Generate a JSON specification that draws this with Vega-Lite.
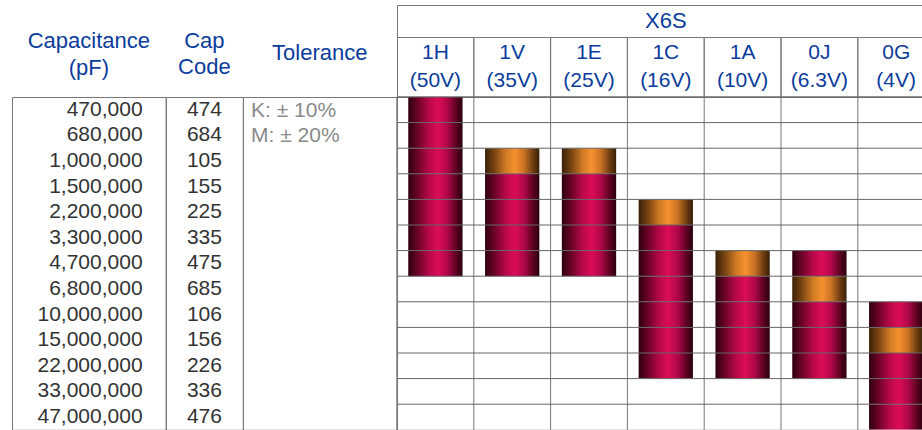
{
  "$schema": "https://vega.github.io/schema/vega-lite/v6.json",
  "padding": {"left": 11, "top": 4, "right": 0, "bottom": 0},
  "autosize": {"type": "pad"},
  "background": "white",
  "config": {
    "view": {"stroke": "#777", "strokeWidth": 1},
    "concat": {"spacing": 0},
    "text": {"font": "Liberation Sans"}
  },
  "datasets": {
    "rows": [
      {"cap": "470,000", "code": "474"},
      {"cap": "680,000", "code": "684"},
      {"cap": "1,000,000", "code": "105"},
      {"cap": "1,500,000", "code": "155"},
      {"cap": "2,200,000", "code": "225"},
      {"cap": "3,300,000", "code": "335"},
      {"cap": "4,700,000", "code": "475"},
      {"cap": "6,800,000", "code": "685"},
      {"cap": "10,000,000", "code": "106"},
      {"cap": "15,000,000", "code": "156"},
      {"cap": "22,000,000", "code": "226"},
      {"cap": "33,000,000", "code": "336"},
      {"cap": "47,000,000", "code": "476"}
    ],
    "tolerance": [
      {"cap": "470,000", "tol": "K: ± 10%"},
      {"cap": "680,000", "tol": "M: ± 20%"}
    ],
    "voltages": [
      {"voltage": "1H", "label": "1H (50V)"},
      {"voltage": "1V", "label": "1V (35V)"},
      {"voltage": "1E", "label": "1E (25V)"},
      {"voltage": "1C", "label": "1C (16V)"},
      {"voltage": "1A", "label": "1A (10V)"},
      {"voltage": "0J", "label": "0J (6.3V)"},
      {"voltage": "0G", "label": "0G (4V)"}
    ],
    "cells": [
      {"voltage": "1H", "cap": "470,000", "status": "standard"},
      {"voltage": "1H", "cap": "680,000", "status": "standard"},
      {"voltage": "1H", "cap": "1,000,000", "status": "standard"},
      {"voltage": "1H", "cap": "1,500,000", "status": "standard"},
      {"voltage": "1H", "cap": "2,200,000", "status": "standard"},
      {"voltage": "1H", "cap": "3,300,000", "status": "standard"},
      {"voltage": "1H", "cap": "4,700,000", "status": "standard"},
      {"voltage": "1V", "cap": "1,000,000", "status": "development"},
      {"voltage": "1V", "cap": "1,500,000", "status": "standard"},
      {"voltage": "1V", "cap": "2,200,000", "status": "standard"},
      {"voltage": "1V", "cap": "3,300,000", "status": "standard"},
      {"voltage": "1V", "cap": "4,700,000", "status": "standard"},
      {"voltage": "1E", "cap": "1,000,000", "status": "development"},
      {"voltage": "1E", "cap": "1,500,000", "status": "standard"},
      {"voltage": "1E", "cap": "2,200,000", "status": "standard"},
      {"voltage": "1E", "cap": "3,300,000", "status": "standard"},
      {"voltage": "1E", "cap": "4,700,000", "status": "standard"},
      {"voltage": "1C", "cap": "2,200,000", "status": "development"},
      {"voltage": "1C", "cap": "3,300,000", "status": "standard"},
      {"voltage": "1C", "cap": "4,700,000", "status": "standard"},
      {"voltage": "1C", "cap": "6,800,000", "status": "standard"},
      {"voltage": "1C", "cap": "10,000,000", "status": "standard"},
      {"voltage": "1C", "cap": "15,000,000", "status": "standard"},
      {"voltage": "1C", "cap": "22,000,000", "status": "standard"},
      {"voltage": "1A", "cap": "4,700,000", "status": "development"},
      {"voltage": "1A", "cap": "6,800,000", "status": "standard"},
      {"voltage": "1A", "cap": "10,000,000", "status": "standard"},
      {"voltage": "1A", "cap": "15,000,000", "status": "standard"},
      {"voltage": "1A", "cap": "22,000,000", "status": "standard"},
      {"voltage": "0J", "cap": "4,700,000", "status": "standard"},
      {"voltage": "0J", "cap": "6,800,000", "status": "development"},
      {"voltage": "0J", "cap": "10,000,000", "status": "standard"},
      {"voltage": "0J", "cap": "15,000,000", "status": "standard"},
      {"voltage": "0J", "cap": "22,000,000", "status": "standard"},
      {"voltage": "0G", "cap": "10,000,000", "status": "standard"},
      {"voltage": "0G", "cap": "15,000,000", "status": "development"},
      {"voltage": "0G", "cap": "22,000,000", "status": "standard"},
      {"voltage": "0G", "cap": "33,000,000", "status": "standard"},
      {"voltage": "0G", "cap": "47,000,000", "status": "standard"}
    ]
  },
  "columns": 4,
  "spacing": 0,
  "bounds": "flush",
  "concat": [
    {
      "width": 153.6,
      "height": 92,
      "data": {"values": [{"header": "Capacitance (pF)"}]},
      "mark": {"type": "text", "fontSize": 22, "color": "#0b3c9c", "lineBreak": " ", "lineHeight": 26.5, "baseline": "middle", "dy": -10},
      "encoding": {"text": {"field": "header"}}
    },
    {
      "width": 76.8,
      "height": 92,
      "data": {"values": [{"header": "Cap Code"}]},
      "mark": {"type": "text", "fontSize": 22, "color": "#0b3c9c", "lineBreak": " ", "lineHeight": 25.5, "baseline": "middle", "dy": -10},
      "encoding": {"text": {"field": "header"}}
    },
    {
      "width": 153.6,
      "height": 92,
      "data": {"values": [{"header": "Tolerance"}]},
      "mark": {"type": "text", "fontSize": 22, "color": "#0b3c9c", "baseline": "middle", "dy": 2},
      "encoding": {"text": {"field": "header"}}
    },
    {
      "width": 526,
      "height": 92,
      "view": {"strokeDash": [526, 92, 618]},
      "resolve": {"scale": {"x": "independent"}},
      "layer": [
        {
          "data": {"values": [{"family": "X6S"}]},
          "mark": {"type": "text", "fontSize": 22, "color": "#0b3c9c", "baseline": "middle", "clip": true},
          "encoding": {
            "x": {"field": "family", "type": "nominal", "bandPosition": 0.5, "axis": null, "scale": {"type": "band", "range": [0, 537.6], "paddingInner": 0, "paddingOuter": 0}},
            "y": {"datum": "family", "type": "nominal", "bandPosition": 0.727, "axis": null, "scale": {"type": "band", "domain": ["family", "voltage"], "range": [-27, 92], "paddingInner": 0, "paddingOuter": 0}},
            "text": {"field": "family"}
          }
        },
        {
          "data": {"name": "voltages"},
          "mark": {"type": "rect", "filled": false, "color": "#777", "strokeWidth": 1, "clip": true},
          "encoding": {
            "x": {"field": "voltage", "type": "nominal", "axis": null, "scale": {"type": "band", "domain": ["1H", "1V", "1E", "1C", "1A", "0J", "0G"], "range": [0, 537.6], "paddingInner": 0, "paddingOuter": 0}},
            "y": {"datum": "voltage", "type": "nominal"}
          }
        },
        {
          "data": {"name": "voltages"},
          "mark": {"type": "text", "fontSize": 21, "color": "#0b3c9c", "lineBreak": " ", "lineHeight": 28, "baseline": "middle", "dy": -14, "clip": true},
          "encoding": {
            "x": {"field": "voltage", "type": "nominal", "bandPosition": 0.5, "axis": null, "scale": {"type": "band", "domain": ["1H", "1V", "1E", "1C", "1A", "0J", "0G"], "range": [0, 537.6], "paddingInner": 0, "paddingOuter": 0}},
            "y": {"datum": "voltage", "type": "nominal", "bandPosition": 0.5},
            "text": {"field": "label"}
          }
        }
      ]
    },
    {
      "width": 153.6,
      "height": 332.8,
      "data": {"name": "rows"},
      "mark": {"type": "text", "align": "right", "baseline": "middle", "x": "width", "dx": -23, "fontSize": 21, "color": "#333"},
      "encoding": {
        "y": {"field": "cap", "type": "nominal", "sort": null, "bandPosition": 0.5, "axis": null, "scale": {"type": "band", "paddingInner": 0, "paddingOuter": 0}},
        "text": {"field": "cap"}
      }
    },
    {
      "width": 76.8,
      "height": 332.8,
      "data": {"name": "rows"},
      "mark": {"type": "text", "baseline": "middle", "fontSize": 21, "color": "#333"},
      "encoding": {
        "y": {"field": "cap", "type": "nominal", "sort": null, "bandPosition": 0.5, "axis": null, "scale": {"type": "band", "paddingInner": 0, "paddingOuter": 0}},
        "text": {"field": "code"}
      }
    },
    {
      "width": 153.6,
      "height": 332.8,
      "data": {"name": "tolerance"},
      "mark": {"type": "text", "align": "left", "baseline": "middle", "x": 0, "dx": 8, "dy": 1, "fontSize": 21, "color": "#8a8a8a"},
      "encoding": {
        "y": {"field": "cap", "type": "nominal", "bandPosition": 0.5, "axis": null, "scale": {"type": "band", "paddingInner": 0, "paddingOuter": 0, "domain": ["470,000", "680,000", "1,000,000", "1,500,000", "2,200,000", "3,300,000", "4,700,000", "6,800,000", "10,000,000", "15,000,000", "22,000,000", "33,000,000", "47,000,000"]}},
        "text": {"field": "tol"}
      }
    },
    {
      "width": 526,
      "height": 332.8,
      "view": {"strokeDash": [526, 332.8, 858.8]},
      "layer": [
        {
          "data": {"name": "cells"},
          "transform": [{"filter": "datum.status === 'standard'"}],
          "mark": {
            "type": "rect",
            "width": {"band": 0.707},
            "clip": true,
            "color": {"gradient": "linear", "x1": 0, "x2": 1, "y1": 0, "y2": 0, "stops": [
              {"offset": 0, "color": "#2c000e"},
              {"offset": 0.18, "color": "#6e0328"},
              {"offset": 0.38, "color": "#b8084a"},
              {"offset": 0.55, "color": "#dc0c57"},
              {"offset": 0.72, "color": "#b0074a"},
              {"offset": 0.88, "color": "#5e0222"},
              {"offset": 1, "color": "#2a000c"}
            ]}
          },
          "encoding": {
            "x": {"field": "voltage", "type": "nominal", "axis": null, "scale": {"type": "band", "domain": ["1H", "1V", "1E", "1C", "1A", "0J", "0G"], "range": [0, 537.6], "paddingInner": 0, "paddingOuter": 0}},
            "y": {"field": "cap", "type": "nominal", "axis": null, "scale": {"type": "band", "paddingInner": 0, "paddingOuter": 0, "domain": ["470,000", "680,000", "1,000,000", "1,500,000", "2,200,000", "3,300,000", "4,700,000", "6,800,000", "10,000,000", "15,000,000", "22,000,000", "33,000,000", "47,000,000"]}}
          }
        },
        {
          "data": {"name": "cells"},
          "transform": [{"filter": "datum.status === 'development'"}],
          "mark": {
            "type": "rect",
            "width": {"band": 0.707},
            "clip": true,
            "color": {"gradient": "linear", "x1": 0, "x2": 1, "y1": 0, "y2": 0, "stops": [
              {"offset": 0, "color": "#3b2007"},
              {"offset": 0.18, "color": "#7b4512"},
              {"offset": 0.38, "color": "#cf7a25"},
              {"offset": 0.55, "color": "#f7912f"},
              {"offset": 0.72, "color": "#c97124"},
              {"offset": 0.88, "color": "#6f3d10"},
              {"offset": 1, "color": "#372006"}
            ]}
          },
          "encoding": {
            "x": {"field": "voltage", "type": "nominal"},
            "y": {"field": "cap", "type": "nominal"}
          }
        },
        {
          "data": {"name": "voltages"},
          "mark": {"type": "rule", "color": "#777", "strokeWidth": 1},
          "encoding": {"x": {"field": "voltage", "type": "nominal", "bandPosition": 0}}
        },
        {
          "data": {"name": "rows"},
          "mark": {"type": "rule", "color": "#666", "strokeWidth": 1},
          "encoding": {"y": {"field": "cap", "type": "nominal", "bandPosition": 0}}
        }
      ]
    }
  ]
}
